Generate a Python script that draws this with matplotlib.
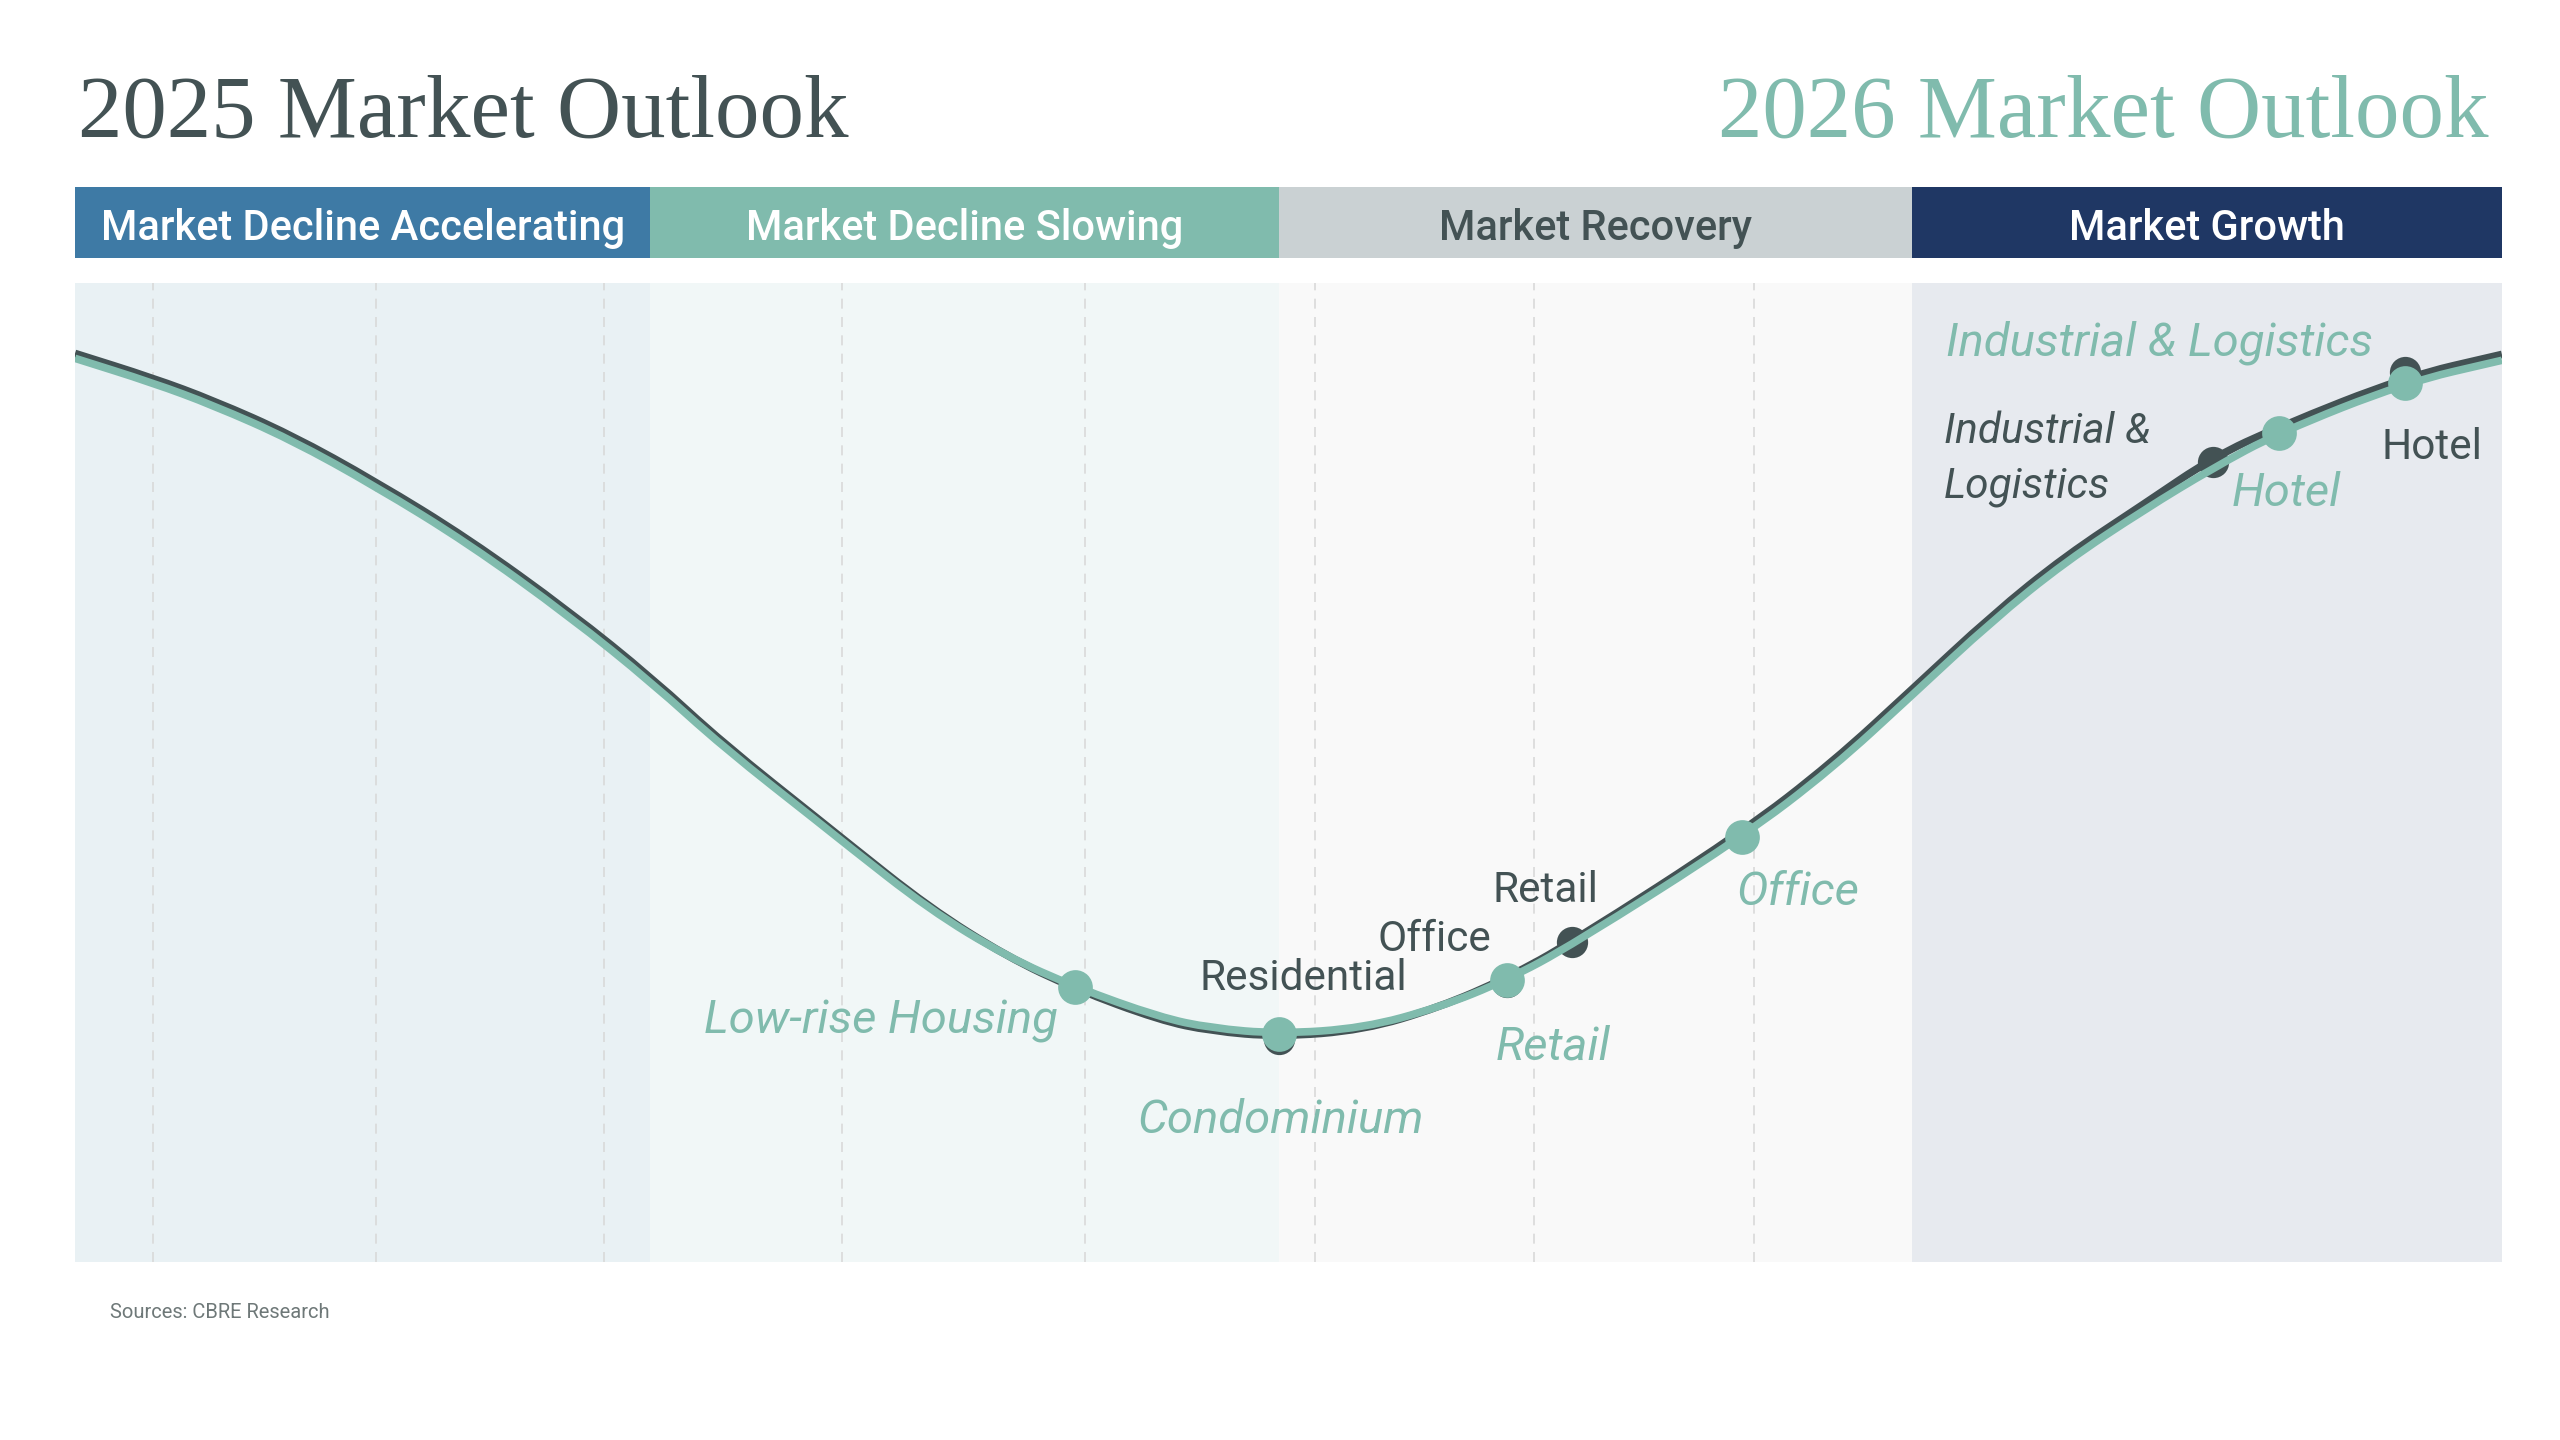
import matplotlib.pyplot as plt
from matplotlib.path import Path
from matplotlib.patches import PathPatch

# market phases across the cycle
phases = ['Market Decline Accelerating', 'Market Decline Slowing', 'Market Recovery', 'Market Growth']
phase_edges = [0, 23.7, 49.6, 75.7, 100]
grid_x = [3.2, 12.4, 21.8, 31.6, 41.6, 51.1, 60.1, 69.2]

# property clock curve (position in cycle vs market level)
curve_x = [0, 3.2, 5.7, 8.9, 12.4, 16.2, 20.4, 23.8, 26.7, 30.9, 31.7, 35.2, 38.4, 41.2,
           44.7, 46.8, 49.6, 53.1, 56.2, 59.0, 61.7, 68.7, 72.4, 75.7, 79.0, 82.0, 85.3,
           88.1, 90.8, 96.0, 100]
curve_2026 = [92.3, 89.8, 87.5, 84.0, 79.2, 73.4, 65.9, 59.1, 52.6, 44.4, 42.8, 36.0, 31.2, 28.1,
              25.0, 23.9, 23.3, 23.9, 26.0, 28.8, 32.4, 43.4, 50.4, 57.9, 65.5, 71.5, 76.9,
              81.1, 84.7, 89.8, 92.1]
curve_2025 = [92.8, 90.3, 88.0, 84.5, 79.7, 73.9, 66.4, 59.6, 53.0, 44.7, 43.1, 36.2, 31.2, 27.9,
              24.7, 23.6, 23.0, 23.7, 26.0, 29.0, 32.7, 43.9, 51.0, 58.5, 66.1, 72.1, 77.5,
              82.2, 85.3, 90.4, 92.7]

sectors_2025 = ['Residential', 'Office', 'Retail', 'Industrial &\nLogistics', 'Hotel']
sector_2025_x = [49.6, 59.0, 61.7, 88.1, 96.0]
sector_2025_y = [22.8, 28.6, 32.7, 81.7, 90.9]

sectors_2026 = ['Low-rise Housing', 'Condominium', 'Retail', 'Office', 'Hotel', 'Industrial & Logistics']
sector_2026_x = [41.2, 49.6, 59.0, 68.7, 90.8, 96.0]
sector_2026_y = [28.1, 23.3, 28.8, 43.4, 84.7, 89.8]

DARK = '#435254'
GREEN = '#80BBAD'
band_colors = ['#3E7AA5', '#80BBAD', '#CAD1D3', '#1F3764']
band_text = ['white', 'white', DARK, 'white']
panel_colors = ['#E9F1F4', '#F1F7F7', '#F9F9F9', '#E7EAEF']

# label placement (x, y, ha)
lab_2025 = [(50.6, 29.0, 'center'), (56.0, 32.9, 'center'), (60.6, 37.9, 'center'),
            (77.0, 82.0, 'left'), (97.1, 83.2, 'center')]
lab_2026 = [(40.5, 24.6, 'right'), (49.7, 14.5, 'center'), (60.9, 22.0, 'center'),
            (71.0, 37.8, 'center'), (91.1, 78.5, 'center'), (77.1, 93.9, 'left')]

plt.rcParams['font.family'] = ['Roboto', 'DejaVu Sans']


def smooth_path(xs, ys):
    # quadratic b-spline through the midpoints, drawn by matplotlib
    pts = list(zip(xs, ys))
    verts = [pts[0], ((pts[0][0] + pts[1][0]) / 2, (pts[0][1] + pts[1][1]) / 2)]
    codes = [Path.MOVETO, Path.LINETO]
    for i in range(1, len(pts) - 1):
        mid = ((pts[i][0] + pts[i + 1][0]) / 2, (pts[i][1] + pts[i + 1][1]) / 2)
        verts += [pts[i], mid]
        codes += [Path.CURVE3, Path.CURVE3]
    verts.append(pts[-1])
    codes.append(Path.LINETO)
    return Path(verts, codes)


fig = plt.figure(figsize=(25.6, 14.4), dpi=100)
fig.patch.set_facecolor('white')

ax = fig.add_axes([0.0293, 0.1236, 0.9480, 0.6799])
bax = fig.add_axes([0.0293, 0.8208, 0.9480, 0.0493])

for i, name in enumerate(phases):
    x0, x1 = phase_edges[i], phase_edges[i + 1]
    ax.axvspan(x0, x1, color=panel_colors[i], lw=0, zorder=0)
    bax.axvspan(x0, x1, color=band_colors[i], lw=0)
    bax.text((x0 + x1) / 2, 0.42, name, ha='center', va='center', fontsize=30,
             color=band_text[i], weight='medium')

for gx in grid_x:
    ax.axvline(gx, color='#D9D9D9', lw=1.2, ls=(0, (6, 5)), zorder=1)

ax.add_patch(PathPatch(smooth_path(curve_x, curve_2025), fill=False, edgecolor=DARK,
                       lw=5.5, capstyle='butt', zorder=3))
ax.plot(sector_2025_x, sector_2025_y, 'o', ms=22.5, color=DARK, mew=0, zorder=4)
ax.add_patch(PathPatch(smooth_path(curve_x, curve_2026), fill=False, edgecolor=GREEN,
                       lw=5.5, capstyle='butt', zorder=5))
ax.plot(sector_2026_x, sector_2026_y, 'o', ms=25, color=GREEN, mew=0, zorder=6)

for name, (lx, ly, ha) in zip(sectors_2025, lab_2025):
    style = 'italic' if 'Industrial' in name else 'normal'
    ax.text(lx, ly, name, ha=ha, va='center', fontsize=30.5, color=DARK,
            style=style, linespacing=1.43, zorder=7)

for name, (lx, ly, ha) in zip(sectors_2026, lab_2026):
    ax.text(lx, ly, name, ha=ha, va='center', fontsize=34, color=GREEN,
            style='italic', zorder=7)

for a in (ax, bax):
    a.set_xlim(0, 100)
    a.set_xticks([])
    a.set_yticks([])
    for s in a.spines.values():
        s.set_visible(False)
ax.set_ylim(0, 100)
bax.set_ylim(0, 1)

fig.text(0.0305, 0.9049, '2025 Market Outlook', fontsize=64, color=DARK,
         family='Liberation Serif', va='baseline', ha='left')
fig.text(0.9719, 0.9049, '2026 Market Outlook', fontsize=64, color=GREEN,
         family='Liberation Serif', va='baseline', ha='right')
fig.text(0.043, 0.0882, 'Sources: CBRE Research', fontsize=14.5, color='#6E7878',
         va='center', ha='left')

fig.savefig('out.png', dpi=100, facecolor='white')
